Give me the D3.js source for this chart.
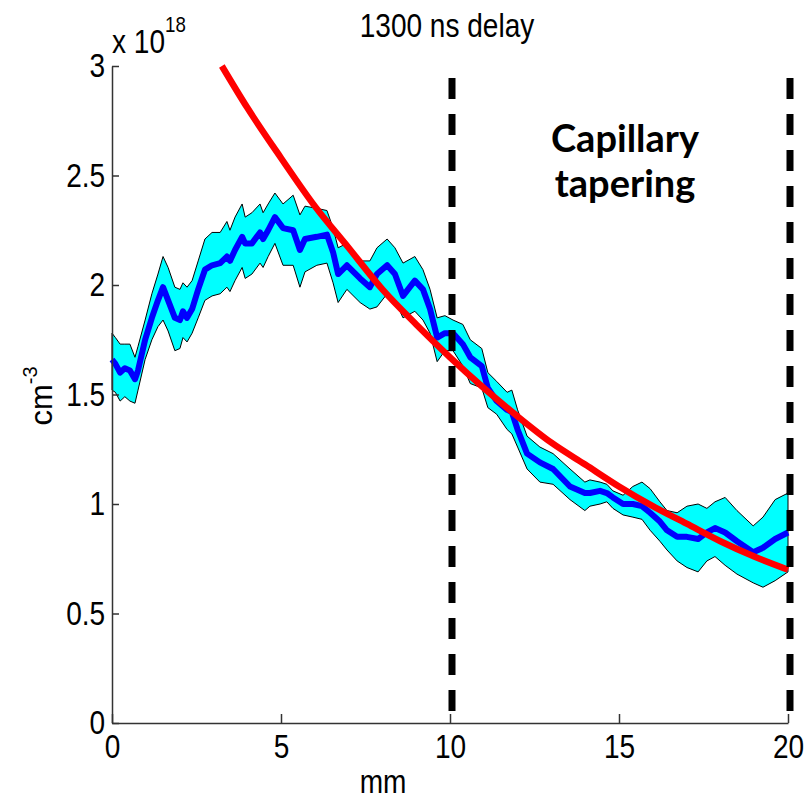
<!DOCTYPE html>
<html><head><meta charset="utf-8">
<script src="https://cdn.jsdelivr.net/npm/d3@7"></script>
<style>
html,body{margin:0;padding:0;background:#fff;}
svg{display:block;}
</style></head>
<body>
<script>
// ---- data (density in units of 1e18 cm^-3, position in mm) ----
const posX = [0.00,0.10,0.24,0.38,0.53,0.68,0.77,0.98,1.18,1.36,1.51,1.66,1.86,2.01,2.10,2.22,2.37,2.55,2.75,2.96,3.20,3.40,3.49,3.64,3.85,3.94,4.14,4.38,4.47,4.62,4.82,5.06,5.36,5.56,5.71,6.06,6.36,6.54,6.69,6.95,7.34,7.63,7.84,8.14,8.37,8.61,8.96,9.20,9.41,9.62,9.85,10.09,10.38,10.60,10.94,11.12,11.38,11.69,11.83,12.00,12.28,12.66,13.05,13.55,13.99,14.14,14.44,14.64,14.82,15.12,15.41,15.68,15.92,16.21,16.42,16.72,17.01,17.34,17.60,17.84,18.14,18.49,18.97,19.26,19.62,20.00];
const meanDensity = [1.66,1.64,1.60,1.62,1.61,1.57,1.61,1.75,1.85,1.93,1.99,1.93,1.85,1.84,1.88,1.85,1.89,1.98,2.07,2.09,2.10,2.13,2.11,2.16,2.22,2.19,2.19,2.24,2.21,2.25,2.31,2.26,2.25,2.16,2.21,2.22,2.23,2.15,2.05,2.09,2.03,1.99,2.05,2.09,2.05,1.95,2.02,1.98,1.89,1.76,1.78,1.78,1.73,1.67,1.63,1.53,1.47,1.43,1.42,1.34,1.23,1.19,1.16,1.08,1.05,1.05,1.06,1.05,1.03,1.00,1.00,0.99,0.96,0.92,0.88,0.85,0.85,0.84,0.87,0.89,0.87,0.83,0.78,0.80,0.84,0.87];
const upperDensity = [1.78,1.76,1.73,1.73,1.73,1.67,1.72,1.84,1.96,2.05,2.13,2.08,1.99,1.98,2.01,1.99,2.02,2.11,2.21,2.24,2.24,2.29,2.25,2.31,2.37,2.31,2.33,2.37,2.33,2.37,2.42,2.37,2.41,2.32,2.36,2.35,2.34,2.26,2.17,2.19,2.11,2.11,2.17,2.21,2.17,2.10,2.13,2.07,1.98,1.85,1.86,1.84,1.82,1.75,1.71,1.60,1.56,1.51,1.52,1.43,1.31,1.26,1.23,1.16,1.10,1.11,1.10,1.09,1.06,1.04,1.08,1.10,1.07,1.01,0.97,0.96,0.99,1.00,0.98,1.01,1.03,0.97,0.90,0.94,1.02,1.05];
const lowerDensity = [1.52,1.51,1.47,1.49,1.47,1.46,1.52,1.66,1.75,1.81,1.84,1.79,1.70,1.71,1.76,1.74,1.78,1.85,1.93,1.95,1.96,1.99,1.97,2.02,2.08,2.03,2.05,2.10,2.08,2.13,2.19,2.09,2.09,1.99,2.06,2.09,2.10,2.01,1.92,1.98,1.92,1.89,1.90,1.96,1.93,1.85,1.88,1.84,1.78,1.65,1.70,1.70,1.63,1.55,1.53,1.44,1.41,1.34,1.32,1.26,1.16,1.10,1.09,1.02,0.97,0.99,1.00,1.01,0.98,0.95,0.94,0.93,0.88,0.83,0.79,0.74,0.71,0.69,0.74,0.76,0.72,0.68,0.64,0.62,0.65,0.69];
const fitX = [3.25,4,5,6,7,8,9,10,11,12,13,14,15,16,17,18,19,20];
const fitDensity = [3.00,2.81,2.58,2.36,2.17,1.98,1.82,1.67,1.53,1.40,1.28,1.18,1.08,0.99,0.91,0.83,0.76,0.70];
const regionBounds = [10, 20];
const xTicks = [0,5,10,15,20];
const yTicks = [0,0.5,1,1.5,2,2.5,3];
const yTickLabels = ["0","0.5","1","1.5","2","2.5","3"];

const W = 805, H = 801;
const svg = d3.select("body").append("svg").attr("width", W).attr("height", H);

const x = d3.scaleLinear().domain([0,20]).range([112,788]);
const y = d3.scaleLinear().domain([0,3]).range([723,66]);

const rows = posX.map((v,i)=>({x:v, m:meanDensity[i], u:upperDensity[i], l:lowerDensity[i]}));

// band
const area = d3.area().x(d=>x(d.x)).y0(d=>y(d.l)).y1(d=>y(d.u));
svg.append("path").datum(rows).attr("d", area)
  .attr("fill","#00ffff").attr("stroke","#000").attr("stroke-width",1);

// mean line
svg.append("path").datum(rows)
  .attr("d", d3.line().x(d=>x(d.x)).y(d=>y(d.m)))
  .attr("fill","none").attr("stroke","#0000ff").attr("stroke-width",6).attr("stroke-linejoin","round");

// fit line
const fit = fitX.map((v,i)=>({x:v, v:fitDensity[i]}));
svg.append("path").datum(fit)
  .attr("d", d3.line().x(d=>x(d.x)).y(d=>y(d.v)).curve(d3.curveMonotoneX))
  .attr("fill","none").attr("stroke","#ff0000").attr("stroke-width",6.5);

// dashed region boundaries
svg.selectAll("line.bound").data(regionBounds).join("line")
  .attr("class","bound")
  .attr("x1", d=>x(d)+2).attr("x2", d=>x(d)+2)
  .attr("y1", y(2.945)).attr("y2", y(0))
  .attr("stroke","#000").attr("stroke-width",7).attr("stroke-dasharray","21,15");

const tickFont = "'Liberation Sans',Arial,sans-serif";
const SX = 0.85;

// axes
const yAxis = d3.axisLeft(y).tickValues(yTicks).tickFormat((d,i)=>yTickLabels[i])
  .tickSizeInner(-7).tickSizeOuter(0).tickPadding(8);
const gy = svg.append("g").attr("transform","translate(112,0)").call(yAxis);

const xAxis = d3.axisBottom(x).tickValues(xTicks).tickFormat(d3.format("d"))
  .tickSizeInner(-9).tickSizeOuter(0).tickPadding(12);
const gx = svg.append("g").attr("transform","translate(0,723)").call(xAxis);

[gx, gy].forEach(g=>{
  g.select(".domain").attr("stroke","#333").attr("stroke-width",1.5);
  g.selectAll(".tick line").attr("stroke","#333").attr("stroke-width",1.5);
  g.selectAll(".tick text").attr("font-family",tickFont).attr("font-size",33)
    .attr("fill","#000").attr("transform",`scale(${SX},1)`);
});

// exponent label
const ex = svg.append("text").attr("transform",`translate(112,53) scale(${SX},1)`)
  .attr("font-family",tickFont).attr("font-size",33).attr("fill","#000");
ex.append("tspan").text("x 10");
ex.append("tspan").attr("dy",-21).attr("font-size",22).text("18");

// title
svg.append("text").attr("transform",`translate(447,37) scale(${SX},1)`).attr("text-anchor","middle")
  .attr("font-family",tickFont).attr("font-size",33).attr("fill","#000")
  .text("1300 ns delay");

// x label
svg.append("text").attr("transform",`translate(383,793) scale(${SX},1)`).attr("text-anchor","middle")
  .attr("font-family",tickFont).attr("font-size",33).attr("fill","#000").text("mm");

// y label
const yl = svg.append("text").attr("transform","translate(52,396) rotate(-90)")
  .attr("text-anchor","middle")
  .attr("font-family",tickFont).attr("font-size",31).attr("fill","#000");
yl.append("tspan").text("cm");
yl.append("tspan").attr("dy",-15).attr("font-size",20).text("-3");

// annotation
const ann = svg.append("text").attr("text-anchor","middle")
  .attr("font-family","Lato, 'Open Sans', sans-serif").attr("font-weight","bold")
  .attr("font-size",38).attr("fill","#000");
ann.append("tspan").attr("x",625).attr("y",152).text("Capillary");
ann.append("tspan").attr("x",625).attr("y",197).text("tapering");
</script>
</body></html>
